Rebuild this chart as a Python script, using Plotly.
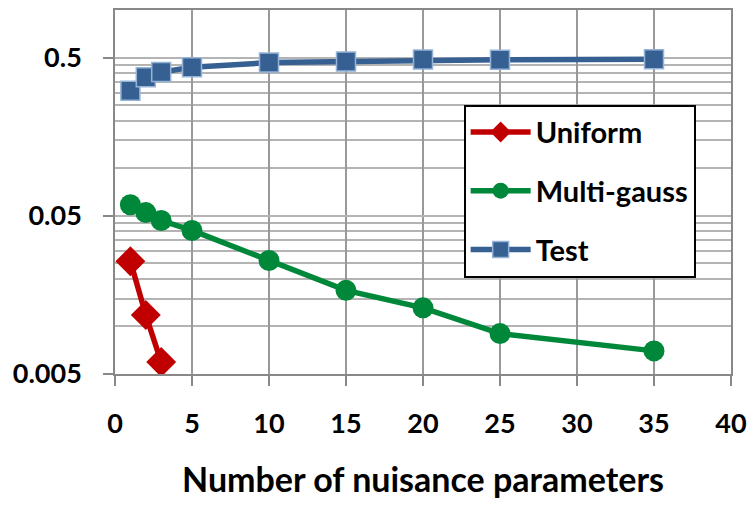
import plotly.graph_objects as go

x_uniform = [1, 2, 3]
y_uniform = [0.0258, 0.0118, 0.00595]

x_gauss = [1, 2, 3, 5, 10, 15, 20, 25, 35]
y_gauss = [0.0587, 0.0524, 0.0467, 0.0404, 0.0261, 0.0169, 0.0131, 0.0090, 0.0070]

x_test = [1, 2, 3, 5, 10, 15, 20, 25, 35]
y_test = [0.309, 0.376, 0.405, 0.435, 0.465, 0.472, 0.486, 0.485, 0.488]

major_y = [0.005, 0.05, 0.5]
major_y_text = ["0.005", "0.05", "0.5"]
minor_y = [m * k for m in major_y for k in range(2, 10) if m * k <= 1.0001]

FONT = "Lato"
GRID = "#b4b4b4"

fig = go.Figure()
fig.add_trace(go.Scatter(
    x=x_uniform, y=y_uniform, name="Uniform", mode="lines+markers",
    line=dict(color="#C00000", width=5.5),
    marker=dict(symbol="diamond", size=23, color="#C00000"),
    legendgroup="a"))
fig.add_trace(go.Scatter(
    x=x_gauss, y=y_gauss, name="Multi-gauss", mode="lines+markers",
    line=dict(color="#00883A", width=5.5),
    marker=dict(symbol="circle", size=21, color="#00883A"),
    legendgroup="b"))
fig.add_trace(go.Scatter(
    x=x_test, y=y_test, name="Test", mode="lines+markers",
    line=dict(color="#376092", width=5.5),
    marker=dict(symbol="square", size=19, color="#376092",
                line=dict(color="#95B3D7", width=1.5)),
    legendgroup="c"))

fig.update_layout(
    width=755, height=505,
    margin=dict(l=115, r=20, t=8, b=131),
    paper_bgcolor="white", plot_bgcolor="white",
    font=dict(family=FONT, color="black", size=24),
    legend=dict(
        x=0.566, y=0.74, xanchor="left", yanchor="top",
        bgcolor="white", bordercolor="black", borderwidth=2,
        font=dict(family=FONT, size=29, color="black", weight="bold"),
        tracegroupgap=18, itemwidth=60, entrywidth=183,
    ),
    xaxis=dict(
        range=[0, 40], dtick=5, tick0=0,
        showgrid=True, gridcolor="#999999", gridwidth=1.5,
        showline=True, linecolor="#888888", linewidth=1.5, mirror=True,
        ticks="outside", ticklen=10, tickcolor="#888888", tickwidth=1.5,
        tickfont=dict(family=FONT, size=27, weight="bold"),
        ticklabelstandoff=15,
        zeroline=False,
        title=dict(text="Number of nuisance parameters",
                   font=dict(family=FONT, size=34, weight="bold"),
                   standoff=30),
    ),
    yaxis=dict(
        type="log", range=[-2.30103, 0],
        tickmode="array", tickvals=major_y, ticktext=major_y_text,
        showgrid=True, gridcolor=GRID, gridwidth=1.5,
        showline=True, linecolor="#888888", linewidth=1.5, mirror=True,
        ticks="outside", ticklen=10, tickcolor="#888888", tickwidth=1.5,
        tickfont=dict(family=FONT, size=27, weight="bold"),
        ticklabelstandoff=16,
        zeroline=False,
        minor=dict(tickmode="array", tickvals=minor_y, showgrid=True,
                   gridcolor=GRID, gridwidth=1.5, ticks=""),
    ),
)

fig.write_html("out.html")
